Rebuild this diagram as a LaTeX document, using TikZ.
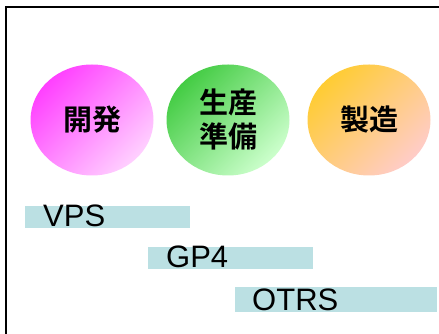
\documentclass[tikz,border=0pt]{standalone}
\usepackage{fontspec}
\setmainfont{Liberation Sans}
\newfontfamily\jpfont{Noto Sans CJK JP}[BoldFont={* Bold}]
\usetikzlibrary{shapes.geometric}
\definecolor{barcol}{HTML}{BBE0E3}
\definecolor{pinkA}{HTML}{FF40FF}
\definecolor{pinkB}{HTML}{FFD0FF}
\definecolor{greenA}{HTML}{44CC44}
\definecolor{greenB}{HTML}{CCFFCC}
\definecolor{orangeA}{HTML}{FFCC33}
\definecolor{orangeB}{HTML}{FFCCC8}
\tikzset{
  phase/.style={ellipse, minimum width=123pt, minimum height=111pt, inner sep=0pt,
    font=\jpfont\bfseries\fontsize{29}{34}\selectfont, align=center},
  diag/.style={shading angle=45},
  bar/.style={fill=barcol, draw=none, minimum height=22pt, inner sep=0pt, anchor=south west},
  bartext/.style={anchor=base west, inner sep=0pt, font=\fontsize{31}{36}\selectfont},
  frame/.style={line width=1.6pt}
}
\begin{document}
\begin{tikzpicture}[x=1pt,y=1pt]
\useasboundingbox (0,0) rectangle (439,334);
\coordinate (fa) at (6,0);
\coordinate (fb) at (6,327);
\coordinate (fc) at (439,327);
\draw[frame] (fa) -- (fb) -- (fc);
\node[phase, top color=pinkA, bottom color=pinkB, diag] (kaihatsu) at (92,214) {開発};
\node[phase, top color=greenA, bottom color=greenB, diag] (seisan) at (228,214) {生産\\準備};
\node[phase, top color=orangeA, bottom color=orangeB, diag] (seizo) at (369,214) {製造};
\node[bar, minimum width=165pt] (vpsbar) at (25,106) {};
\node[bartext] (vps) at (43,107) {VPS};
\node[bar, minimum width=165pt] (gpbar) at (148,65) {};
\node[bartext] (gp4) at (166,66) {GP4};
\node[bar, minimum width=202pt, minimum height=25pt] (otrsbar) at (235,22) {};
\node[bartext] (otrs) at (252,23) {OTRS};
\end{tikzpicture}
\end{document}
